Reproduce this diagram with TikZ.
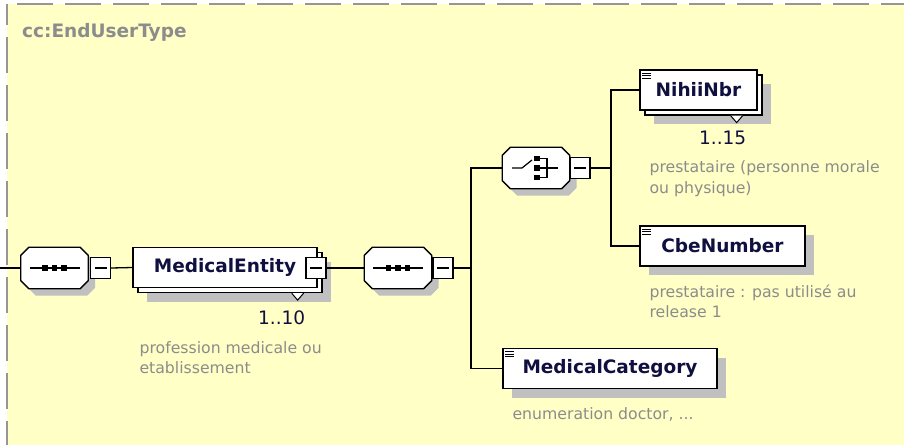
\documentclass[tikz,border=0pt]{standalone}
\usepackage{fontspec}
\setmainfont{DejaVu Sans}
\usepackage{tikz}
\usetikzlibrary{calc, positioning, shadows}

\definecolor{fondjaune}{RGB}{255,255,198}
\definecolor{grisombre}{RGB}{192,192,192}
\definecolor{griscadre}{RGB}{150,150,150}
\definecolor{gristexte}{RGB}{140,140,140}
\definecolor{bleunuit}{RGB}{16,16,64}

% contour octogonal d'un compositeur (coins coupés de 8)
\newcommand{\octogone}[1]{($(#1.north west)+(8,0)$) -- ($(#1.north east)+(-8,0)$)
    -- ($(#1.north east)+(0,8)$) -- ($(#1.south east)+(0,-8)$)
    -- ($(#1.south east)+(-8,0)$) -- ($(#1.south west)+(8,0)$)
    -- ($(#1.south west)+(0,-8)$) -- ($(#1.north west)+(0,8)$) -- cycle}

\tikzset{
  lien/.style={line width=1.3pt},
  ombre/.style={drop shadow={shadow xshift=#1, shadow yshift=-#1, fill=grisombre, opacity=1}},
  compositeur/.style={minimum width=67pt, minimum height=41pt, inner sep=0pt},
  moins/.style={draw, fill=white, line width=1.3pt, minimum width=20pt, minimum height=21pt, inner sep=0pt},
  element/.style={draw, fill=white, line width=1.3pt, minimum height=40pt, inner sep=0pt,
    font=\bfseries\fontsize{18.5}{20}\selectfont, text=bleunuit},
  simple/.style={element, ombre=9pt},
  multiple/.style={element, ombre=14pt,
    copy shadow={shadow xshift=5pt, shadow yshift=-5pt, draw=black, fill=white, line width=1.3pt}},
  occurrence/.style={font=\fontsize{18.5}{20}\selectfont, text=bleunuit, inner sep=0pt},
  annotation/.style={font=\fontsize{15.7}{20.5}\selectfont, text=gristexte, align=left,
    inner sep=0pt, anchor=north west},
}

\begin{document}
\begin{tikzpicture}[x=1pt, y=-1pt]
    % Fond et cadre en pointillés
    \useasboundingbox (0,0) rectangle (904,445);
    \fill[fondjaune] (7,4) rectangle (904,445);
    \draw[griscadre, line width=2pt, dash pattern=on 36pt off 12pt, dash phase=38pt] (7,4) -- (904,4);
    \draw[griscadre, line width=2pt, dash pattern=on 36pt off 12pt, dash phase=15pt] (7,4) -- (7,445);
    \node[font=\bfseries\fontsize{18.5}{20}\selectfont, text=gristexte, anchor=west, inner sep=0pt] (titre) at (22,32) {cc:EndUserType};

    % Compositeurs : séquence externe, séquence interne, choix
    \node[compositeur] (seqExt) at (54.5,268) {};
    \node[compositeur] (seqInt) at (398,268) {};
    \node[compositeur] (choix) at (536,168) {};
    \foreach \n in {seqExt, seqInt, choix} {
        \fill[grisombre, transform canvas={shift={(7pt,-7pt)}}] \octogone{\n};
        \draw[line width=1.3pt, fill=white] \octogone{\n};
    }
    \node[moins] (seqExtMoins) at (100.5,268) {\rule{12pt}{1.3pt}};
    \node[moins] (seqIntMoins) at (443,268) {\rule{12pt}{1.3pt}};
    \node[moins] (choixMoins) at (580,168) {\rule{12pt}{1.3pt}};

    % MedicalEntity (1..10)
    \node[multiple, minimum width=184pt] (entite) at (225,267.5) {MedicalEntity};
    \draw[line width=1pt, fill=white] ($(entite.south east)+(-14,5)$) -- ++(-6,7) -- ++(-6,-7);
    \node[moins] (entiteMoins) at (316,268) {\rule{12pt}{1.3pt}};
    \node[occurrence] (occEntite) at ($(entite.south east)+(-36,30)$) {1..10};
    \node[annotation] (notEntite) at ($(entite.south west)+(7,53)$) {profession medicale ou\\etablissement};

    % NihiiNbr (1..15)
    \node[multiple, minimum width=117pt] (nihii) at (698.5,90) {NihiiNbr};
    \draw[line width=1pt, fill=white] ($(nihii.south east)+(-15,5)$) -- ++(-6,7) -- ++(-6,-7);
    \node[occurrence] (occNihii) at ($(nihii.south east)+(-35,27)$) {1..15};
    \node[annotation] (notNihii) at ($(nihii.south west)+(10,50)$) {prestataire (personne morale\\ou physique)};

    % CbeNumber
    \node[simple, minimum width=165pt] (cbe) at (722.5,246) {CbeNumber};
    \node[annotation] (notCbe) at ($(cbe.south west)+(10,18)$) {prestataire : pas utilisé au\\release 1};

    % MedicalCategory
    \node[simple, minimum width=214pt] (categorie) at (610,368.5) {MedicalCategory};
    \node[annotation] (notCategorie) at ($(categorie.south west)+(10,18)$) {enumeration doctor, ...};

    % Icônes des types simples
    \foreach \n in {nihii, cbe, categorie} {
        \foreach \d in {4, 6.5, 9}
            \draw[line width=0.9pt] ($(\n.north west)+(3,\d)$) -- ++(9,0);
    }

    % Icônes des séquences
    \foreach \n in {seqExt, seqInt} {
        \draw[line width=1.2pt] ($(\n)+(-25,0)$) -- ($(\n)+(25,0)$);
        \foreach \d in {-9.5, 0, 9.5}
            \fill ($(\n)+(\d,0)$) +(-2.7,-2.7) rectangle +(2.7,2.7);
    }

    % Icône du choix
    \draw[line width=1.2pt] ($(choix)+(-24,0)$) -- ++(10,0) -- ++(10,-8);
    \draw[line width=1.2pt] ($(choix)+(1,-9.5)$) -- ++(10,0) -- ++(0,19) -- ++(-10,0);
    \draw[line width=1.2pt] ($(choix)+(1,0)$) -- ++(21,0);
    \foreach \d in {-9.5, 0, 9.5}
        \fill ($(choix)+(1,\d)$) +(-2.7,-2.7) rectangle +(2.7,2.7);

    % Liens
    \coordinate (bordG) at (0,268);
    \coordinate (jSeq) at (471,268);
    \coordinate (jChoix) at (611,168);
    \draw[lien] (bordG) -- (seqExt.west);
    \draw[lien] (seqExtMoins.east) -- (entite.west);
    \draw[lien] (entiteMoins.east) -- (seqInt.west);
    \draw[lien] (seqIntMoins.east) -- (jSeq);
    \draw[lien] (choix.west) -| (jSeq) |- (categorie.west);
    \draw[lien] (choixMoins.east) -- (jChoix);
    \draw[lien] (nihii.west) -| (jChoix) |- (cbe.west);
\end{tikzpicture}
\end{document}
